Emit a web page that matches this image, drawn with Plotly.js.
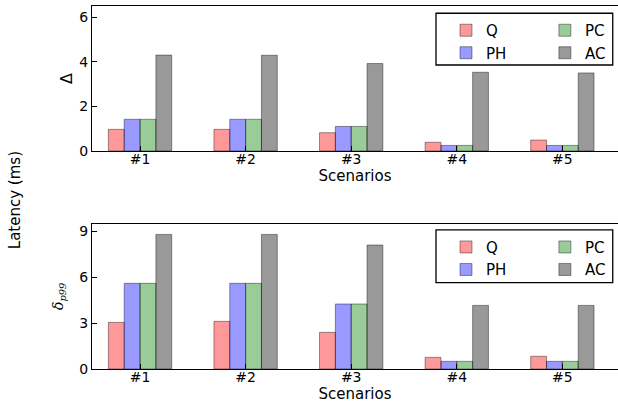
<!DOCTYPE html>
<html><head><meta charset="utf-8">
<script src="https://cdn.plot.ly/plotly-3.0.1.min.js"></script>
<style>html,body{margin:0;padding:0;background:#fff;}#chart{width:618px;height:404px;}</style>
</head><body><div id="chart"></div>
<script>
const scenarios = ['#1', '#2', '#3', '#4', '#5'];
const seriesNames = ['Q', 'PH', 'PC', 'AC'];
// Top panel: Delta
const deltaQ  = [0.97, 0.97, 0.82, 0.39, 0.49];
const deltaPH = [1.42, 1.42, 1.10, 0.25, 0.25];
const deltaPC = [1.42, 1.42, 1.10, 0.25, 0.25];
const deltaAC = [4.30, 4.29, 3.92, 3.53, 3.50];
// Bottom panel: delta_p99
const p99Q  = [3.04, 3.11, 2.39, 0.76, 0.83];
const p99PH = [5.59, 5.59, 4.24, 0.50, 0.50];
const p99PC = [5.59, 5.59, 4.24, 0.50, 0.50];
const p99AC = [8.78, 8.78, 8.09, 4.15, 4.15];
const yTicksTop = [0, 2, 4, 6];
const yTicksBottom = [0, 3, 6, 9];

const fills = ['rgba(255,0,0,0.4)', 'rgba(0,0,255,0.4)', 'rgba(0,128,0,0.4)', 'rgba(0,0,0,0.4)'];
const edge = 'rgba(0,0,0,0.4)';
const FONT = 'DejaVu Sans, sans-serif';

function mk(name, vals, idx, xa, ya, legend, grp) {
  return {
    type: 'bar', name: name, x: scenarios, y: vals, xaxis: xa, yaxis: ya,
    legend: legend, legendgroup: grp, showlegend: true,
    marker: {color: fills[idx], line: {color: edge, width: 1}},
    hoverinfo: 'x+y+name'
  };
}
const topVals = [deltaQ, deltaPH, deltaPC, deltaAC];
const botVals = [p99Q, p99PH, p99PC, p99AC];
const data = [];
seriesNames.forEach((n, i) => data.push(mk(n, topVals[i], i, 'x', 'y', i < 2 ? 'legend' : 'legend2', 't' + n)));
seriesNames.forEach((n, i) => data.push(mk(n, botVals[i], i, 'x2', 'y2', i < 2 ? 'legend3' : 'legend4', 'b' + n)));

const xCommon = {
  type: 'category', range: [-0.455, 4.527], showline: true, linecolor: 'black', linewidth: 1.3,
  mirror: true, ticks: 'inside', ticklen: 5, tickwidth: 1.3, tickcolor: 'black',
  ticklabelstandoff: -5,
  tickfont: {family: FONT, size: 14, color: 'black'}, showgrid: false, zeroline: false,
  title: {text: 'Scenarios', font: {family: FONT, size: 15, color: 'black'}, standoff: 0}
};
const yCommon = {
  showline: true, linecolor: 'black', linewidth: 1.3, mirror: false,
  ticks: 'inside', ticklen: 5, tickwidth: 1.3, tickcolor: 'black',
  tickfont: {family: FONT, size: 14, color: 'black'}, showgrid: false, zeroline: false
};
const legCommon = {
  orientation: 'v', bgcolor: 'rgba(0,0,0,0)', borderwidth: 0, tracegroupgap: 0,
  font: {family: FONT, size: 15, color: 'black'}, xanchor: 'left', yanchor: 'top', itemclick: false
};
const layout = {
  width: 618, height: 404, margin: {l: 92, r: 0, t: 6, b: 35},
  paper_bgcolor: 'white', plot_bgcolor: 'white',
  barmode: 'group', bargap: 0.4, bargroupgap: 0,
  font: {family: FONT, color: 'black'},
  xaxis: Object.assign({}, xCommon, {anchor: 'y', tickvals: scenarios, ticktext: scenarios}),
  xaxis2: Object.assign({}, xCommon, {anchor: 'y2', tickvals: scenarios, ticktext: scenarios}),
  yaxis: Object.assign({}, yCommon, {domain: [0.6006, 1], range: [0, 6.5], tickvals: yTicksTop,
    title: {text: 'Δ', font: {family: FONT, size: 16, color: 'black'}, standoff: 2}}),
  yaxis2: Object.assign({}, yCommon, {domain: [0, 0.4003], range: [0, 9.48], tickvals: yTicksBottom,
    title: {text: '<i>δ</i><sub><i>p99</i></sub>', font: {family: 'DejaVu Serif, serif', size: 14, color: 'black'}, standoff: 12}}),
  legend: Object.assign({}, legCommon, {x: 0.673, y: 0.978}),
  legend2: Object.assign({}, legCommon, {x: 0.861, y: 0.978}),
  legend3: Object.assign({}, legCommon, {x: 0.673, y: 0.381}),
  legend4: Object.assign({}, legCommon, {x: 0.861, y: 0.381}),
  shapes: [
    {type: 'rect', xref: 'paper', yref: 'paper', x0: 0.654, x1: 0.990, y0: 0.8375, y1: 0.980, line: {color: 'black', width: 1.3}},
    {type: 'rect', xref: 'paper', yref: 'paper', x0: 0.654, x1: 0.990, y0: 0.2377, y1: 0.383, line: {color: 'black', width: 1.3}}
  ],
  annotations: [
    {text: 'Latency (ms)', xref: 'paper', yref: 'paper', x: -0.146, y: 0.4656, textangle: -90,
     showarrow: false, xanchor: 'center', yanchor: 'middle', font: {family: FONT, size: 15, color: 'black'}}
  ]
};
Plotly.newPlot('chart', data, layout, {displayModeBar: false, staticPlot: false});
</script></body></html>
